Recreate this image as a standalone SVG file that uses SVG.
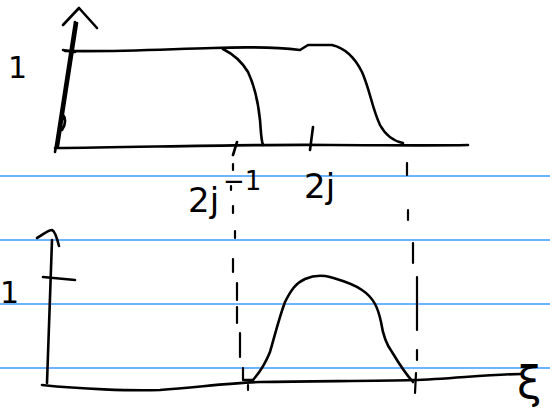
<svg xmlns="http://www.w3.org/2000/svg" width="550" height="415" viewBox="0 0 550 415">
<style>
.rule{stroke:#3d9bff;stroke-width:1.6;fill:none}
.ink{stroke:#000;stroke-width:2.6;fill:none;stroke-linecap:round;stroke-linejoin:round}
.dash{stroke:#000;stroke-width:2.2;fill:none;stroke-linecap:round}
.lbl{font-family:"DejaVu Sans",sans-serif;fill:#000}
</style>
<rect width="550" height="415" fill="#fff"/>
<g id="rules">
<line class="rule" x1="0" y1="176" x2="550" y2="176"/>
<line class="rule" x1="0" y1="240" x2="550" y2="240"/>
<line class="rule" x1="0" y1="304" x2="550" y2="304"/>
<line class="rule" x1="0" y1="368" x2="550" y2="368"/>
</g>
<g id="top-plot">
<path class="ink" d="M55,152 L75,22 M58,146 L77,23 M62,130 C66,124 66,118 62,113"/>
<path class="ink" d="M63,25 L79,8 L97,28"/>
<path class="ink" d="M63,50 L75,52"/>
<path class="ink" d="M55,148 C150,147 260,144 330,145 C380,145 430,146 468,145"/>
<path class="ink" d="M65,51 C120,52 170,49 213,48 C240,47 275,47 300,50 L308,45 L332,45 C345,48 355,58 362,72 C370,90 372,108 380,125 C386,136 393,141 403,143"/>
<path class="ink" d="M223,49 C233,54 242,62 248,72 C254,85 258,100 260,120 C261,132 261,140 263,145"/>
<path class="ink" d="M237,142 L233,155 M313,127 L310,150"/>
<text class="lbl" x="8" y="78" font-size="30">1</text>
<text class="lbl" x="188" y="212" font-size="34">2j<tspan font-size="26" dy="-22" dx="4">−1</tspan></text>
<text class="lbl" x="304" y="198" font-size="34">2j</text>
</g>
<g id="dashes">
<path class="dash" d="M233,164 L233,170 M231,186 L231,190 M233,206 L233,213 M235,231 L235,238 M233,259 L233,272 M237,283 L237,300 M237,307 L237,323 M240,333 L240,357 M243,368 L243,380 M248,385 L248,390"/>
<path class="dash" d="M407,163 L407,175 M408,210 L408,220 M413,243 L413,263 M417,277 L417,330 M417,350 L417,360 M416,373 L415,393"/>
</g>
<g id="bottom-plot">
<path class="ink" d="M47,383 C48,350 50,300 52,240"/>
<path class="ink" d="M37,238 C44,234 48,230 52,230 C55,231 57,238 59,246"/>
<path class="ink" d="M43,277 L75,280"/>
<path class="ink" d="M42,385 C80,389 130,391 160,390 C200,387 230,383 260,382 C320,381 380,381 413,380 C450,379 490,374 522,374"/>
<path class="ink" d="M244,380 L253,380 C260,372 266,362 270,352 C275,335 279,318 285,302 C291,290 296,283 305,279 C312,276 322,275 330,277 C340,280 352,283 362,290 C374,298 378,308 381,322 C383,335 386,344 392,352 C398,362 404,372 413,382"/>
<text class="lbl" x="0" y="303" font-size="30">1</text>
<text class="lbl" x="517" y="398" font-size="44">ξ</text>
</g>
</svg>
